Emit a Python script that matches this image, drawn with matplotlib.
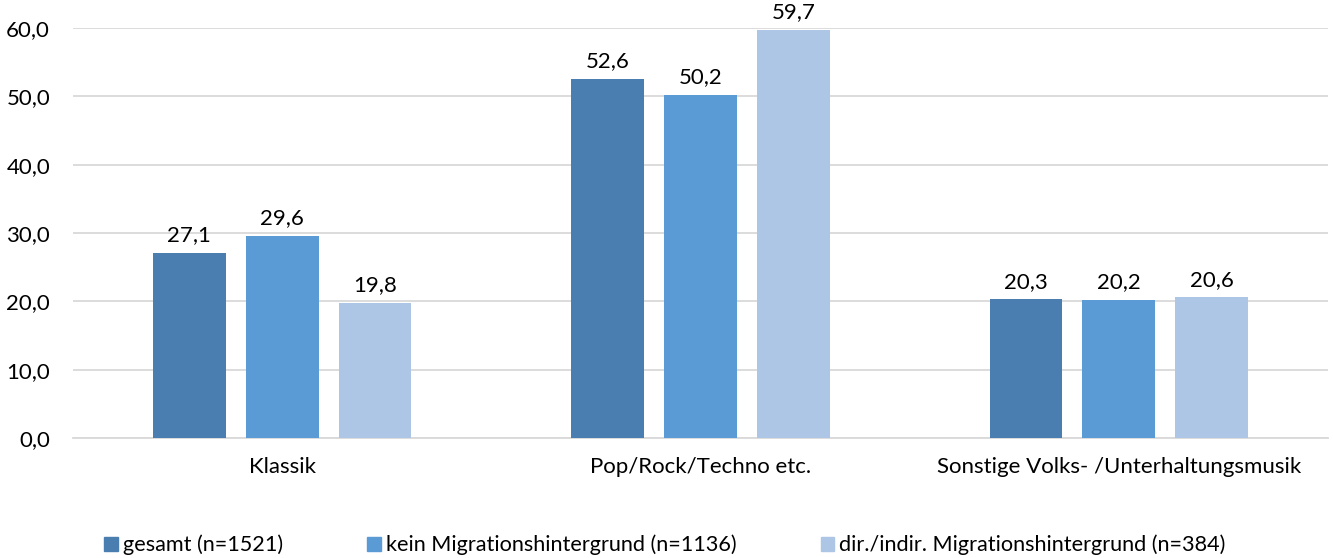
import matplotlib
matplotlib.use("Agg")
import matplotlib.pyplot as plt
from matplotlib.patches import Patch
import numpy as np

categories = ["Klassik", "Pop/Rock/Techno etc.", "Sonstige Volks- /Unterhaltungsmusik"]
series_names = ["gesamt (n=1521)", "kein Migrationshintergrund (n=1136)",
                "dir./indir. Migrationshintergrund (n=384)"]
gesamt = [27.1, 52.6, 20.3]
kein = [29.6, 50.2, 20.2]
migr = [19.8, 59.7, 20.6]
colors = ["#4a7eb0", "#5b9bd5", "#adc6e6"]

plt.rcParams['font.family'] = ['Lato', 'DejaVu Sans']
FS = 16
LFS = 15.6

fig = plt.figure(figsize=(13.33, 5.58), dpi=100)
ax = fig.add_axes([73/1333, 1-438/558, (1328-73)/1333, (438-28)/558])

x = np.arange(len(categories))
w = 0.174
step = 0.222
for i, vals in enumerate([gesamt, kein, migr]):
    pos = x + (i - 1) * step
    ax.bar(pos, vals, width=w, color=colors[i], zorder=3)
    for p, v in zip(pos, vals):
        ax.text(p, v + 1.1, f"{v:.1f}".replace(".", ","), ha="center", va="bottom",
                fontsize=FS, color="#000000")

ax.set_xlim(-0.5, 2.5)
ax.set_ylim(0, 60)
ax.set_yticks(np.arange(0, 61, 10))
ax.set_yticklabels([f"{t:.1f}".replace(".", ",") for t in np.arange(0, 61, 10)], fontsize=FS)
ax.set_xticks(x)
ax.set_xticklabels(categories, fontsize=FS)
ax.tick_params(axis='both', length=0)
ax.tick_params(axis='y', pad=16.5)
ax.tick_params(axis='x', pad=14)
ax.grid(axis='y', color='#d9d9d9', linewidth=1.3, zorder=0)
for s in ["top", "right", "left"]:
    ax.spines[s].set_visible(False)
ax.spines["bottom"].set_color("#d9d9d9")
ax.spines["bottom"].set_linewidth(1.3)

handles = [Patch(color=c, label=n) for c, n in zip(colors, series_names)]
fig.legend(handles=handles, loc="center", bbox_to_anchor=(665/1333, 1-545/558), ncol=3,
           frameon=False, fontsize=LFS, handlelength=0.62, handleheight=0.62,
           handletextpad=0.23, columnspacing=3.9, borderaxespad=0, borderpad=0)

fig.savefig("out.png", dpi=100)
